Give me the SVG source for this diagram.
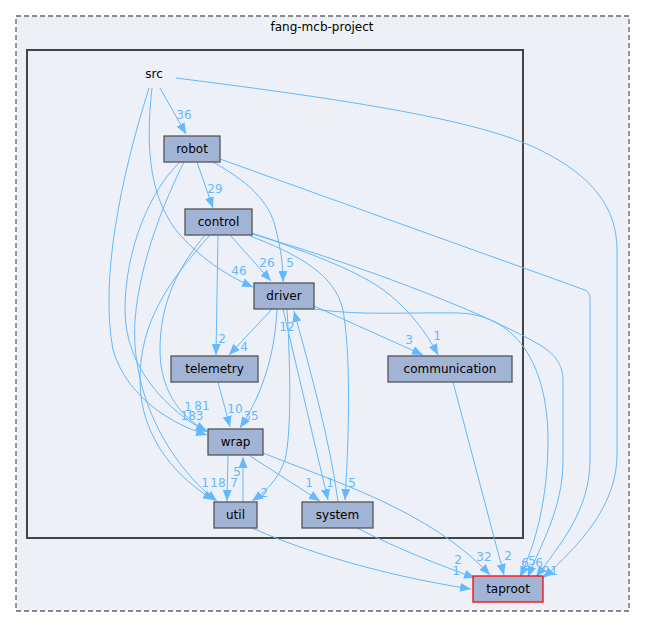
<svg xmlns="http://www.w3.org/2000/svg" width="645" height="628" viewBox="0 0 645 628">
<defs>
<marker id="ah" markerUnits="userSpaceOnUse" markerWidth="11" markerHeight="9" refX="11" refY="4.5" orient="auto">
<path d="M0,0 L11,4.5 L0,9 z" fill="#63b8ff"/>
</marker>
<style>
.e{fill:none;stroke:#63b8ff;stroke-width:1;marker-end:url(#ah)}
.l{fill:#63b8ff;font-family:"DejaVu Sans",sans-serif;font-size:12px;text-anchor:middle}
.n{fill:#a2b4d6;stroke:#555;stroke-width:1.3}
.t{fill:#000;font-family:"DejaVu Sans",sans-serif;font-size:12px;text-anchor:middle}
</style>
</defs>
<rect width="645" height="628" fill="#fff"/>
<g id="cluster_project">
<rect x="16" y="16" width="613" height="595" fill="#edf0f7" stroke="#666" stroke-width="1.3" stroke-dasharray="5,3"/>
<text class="t" x="322" y="31">fang-mcb-project</text>
</g>
<g id="cluster_src">
<rect x="27" y="50" width="496" height="488" fill="#edf0f7" stroke="#444" stroke-width="2"/>
</g>
<g id="edges">
<path class="e" d="M160,88 L186,134"/>
<path class="e" d="M176,78 C350,100 480,120 540,150 C595,177 617,210 617,250 L617,455 C617,505 580,545 543,578"/>
<path class="e" d="M152,88 C145,150 150,200 180,235 C200,257 225,275 253,287"/>
<path class="e" d="M149,88 C120,180 100,280 113,350 C128,400 175,425 207,435"/>
<path class="e" d="M197,162 L213,208"/>
<path class="e" d="M213,162 C245,180 270,200 276,230 C281,250 283,265 283,282"/>
<path class="e" d="M220,159 L585,290 C589,292 590,295 590,300 L590,460 C590,510 560,545 536,577"/>
<path class="e" d="M180,162 C150,190 125,250 125,310 C125,370 170,412 207,432"/>
<path class="e" d="M184,162 C165,200 140,260 135,320 C130,400 175,470 217,501"/>
<path class="e" d="M230,235 L271,281"/>
<path class="e" d="M218,235 L216,355"/>
<path class="e" d="M252,233 C300,250 360,270 390,295 C410,312 425,330 438,355"/>
<path class="e" d="M252,234 C350,262 480,310 540,345 C558,356 563,368 563,380 L563,460 C563,510 540,545 528,577"/>
<path class="e" d="M250,236 C300,255 335,275 343,310 C350,350 350,420 345,500"/>
<path class="e" d="M205,235 C180,265 160,300 160,350 C160,395 185,420 207,431"/>
<path class="e" d="M210,235 C170,280 140,320 140,380 C140,440 180,480 214,500"/>
<path class="e" d="M272,309 L229,355"/>
<path class="e" d="M277,309 C275,350 265,390 240,428"/>
<path class="e" d="M287,309 C290,360 292,430 285,460 C278,480 265,492 252,501"/>
<path class="e" d="M283,309 L328,500"/>
<path class="e" d="M338,502 C330,440 310,370 294,311"/>
<path class="e" d="M314,306 L423,355"/>
<path class="e" d="M314,309 C360,316 410,312 460,313 C520,316 548,370 548,440 C548,500 535,545 520,577"/>
<path class="e" d="M218,382 L230,427"/>
<path class="e" d="M228,456 L227,501"/>
<path class="e" d="M243,502 L243,457"/>
<path class="e" d="M250,456 L320,501"/>
<path class="e" d="M263,453 C330,480 430,510 490,575"/>
<path class="e" d="M250,527 C300,550 380,575 471,589"/>
<path class="e" d="M357,528 C400,550 440,565 475,578"/>
<path class="e" d="M453,382 L504,575"/>
</g>
<g id="edge_labels">
<text class="l" x="184" y="119">36</text>
<text class="l" x="550" y="575">91</text>
<text class="l" x="239" y="275">46</text>
<text class="l" x="192" y="420">183</text>
<text class="l" x="215" y="193">29</text>
<text class="l" x="290" y="267">5</text>
<text class="l" x="539" y="567">6</text>
<text class="l" x="202" y="410">81</text>
<text class="l" x="218" y="487">18</text>
<text class="l" x="267" y="267">26</text>
<text class="l" x="222" y="343">2</text>
<text class="l" x="437" y="340">1</text>
<text class="l" x="532" y="565">5</text>
<text class="l" x="352" y="487">5</text>
<text class="l" x="188" y="411">1</text>
<text class="l" x="205" y="487">1</text>
<text class="l" x="244" y="351">4</text>
<text class="l" x="251" y="420">35</text>
<text class="l" x="264" y="497">2</text>
<text class="l" x="330" y="487">1</text>
<text class="l" x="287" y="331">12</text>
<text class="l" x="409" y="344">3</text>
<text class="l" x="525" y="567">6</text>
<text class="l" x="235" y="413">10</text>
<text class="l" x="234" y="487">7</text>
<text class="l" x="237" y="476">5</text>
<text class="l" x="309" y="487">1</text>
<text class="l" x="484" y="561">32</text>
<text class="l" x="456" y="575">1</text>
<text class="l" x="458" y="564">2</text>
<text class="l" x="508" y="560">2</text>
</g>
<g id="node_src"><text class="t" x="154" y="78">src</text></g>
<g id="node_robot"><rect class="n" x="164" y="136" width="56" height="26"/><text class="t" x="192" y="153">robot</text></g>
<g id="node_control"><rect class="n" x="185" y="209" width="67" height="26"/><text class="t" x="218.5" y="226">control</text></g>
<g id="node_driver"><rect class="n" x="254" y="283" width="60" height="26"/><text class="t" x="284" y="300">driver</text></g>
<g id="node_telemetry"><rect class="n" x="171" y="356" width="87" height="26"/><text class="t" x="214.5" y="373">telemetry</text></g>
<g id="node_communication"><rect class="n" x="388" y="356" width="124" height="26"/><text class="t" x="450" y="373">communication</text></g>
<g id="node_wrap"><rect class="n" x="208" y="429" width="55" height="26"/><text class="t" x="235.5" y="446">wrap</text></g>
<g id="node_util"><rect class="n" x="214" y="502" width="43" height="26"/><text class="t" x="235.5" y="519">util</text></g>
<g id="node_system"><rect class="n" x="302" y="502" width="71" height="26"/><text class="t" x="337.5" y="519">system</text></g>
<g id="node_taproot"><rect x="473" y="576" width="70" height="26" fill="#a2b4d6" stroke="#ff0000" stroke-width="1.3"/><text class="t" x="508" y="593">taproot</text></g>
</svg>
